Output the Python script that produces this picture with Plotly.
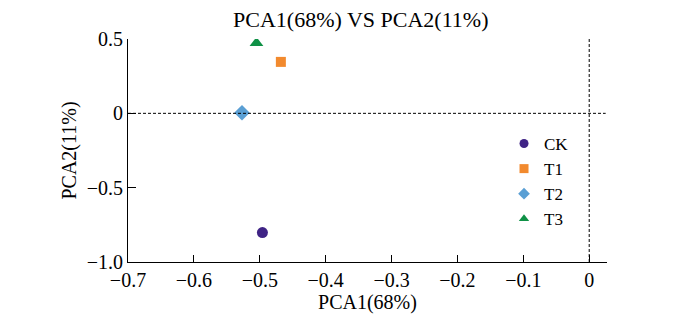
import plotly.graph_objects as go

groups = ["CK", "T1", "T2", "T3"]
pca1 = [-0.496, -0.468, -0.527, -0.505]
pca2 = [-0.802, 0.346, 0.004, 0.473]
symbols = ["circle", "square", "diamond", "triangle-up"]
colors = ["#3f2385", "#f28a2e", "#5a9fd4", "#0f9146"]
x_ticks = [-0.7, -0.6, -0.5, -0.4, -0.3, -0.2, -0.1, 0]
x_ticktext = ["\u22120.7", "\u22120.6", "\u22120.5", "\u22120.4", "\u22120.3", "\u22120.2", "\u22120.1", "0"]
y_ticks = [-1.0, -0.5, 0, 0.5]
y_ticktext = ["\u22121.0", "\u22120.5", "0", "0.5"]

font = "Liberation Serif"
sizes = [11, 10, 12, 12]

fig = go.Figure()
for g, x, y, s, c, sz in zip(groups, pca1, pca2, symbols, colors, sizes):
    fig.add_trace(go.Scatter(x=[x], y=[y], mode="markers", name=g, showlegend=False,
                             marker=dict(symbol=s, color=c, size=sz, line=dict(width=0))))
# legend entries (smaller symbols, like the reference legend)
for g, s, c in zip(groups, symbols, colors):
    fig.add_trace(go.Scatter(x=[None], y=[None], mode="markers", name=g,
                             marker=dict(symbol=s, color=c, size=9, line=dict(width=0))))

# dashed reference lines at 0
fig.add_shape(type="line", xref="x", yref="y", x0=-0.7, x1=0.025, y0=0, y1=0,
              line=dict(color="black", width=1, dash="3px,2px"))
fig.add_shape(type="line", xref="x", yref="y", x0=0, x1=0, y0=-1.0, y1=0.5,
              line=dict(color="black", width=1, dash="3px,2px"))

fig.update_layout(
    width=700, height=318,
    margin=dict(l=120, r=101, t=31, b=64),
    paper_bgcolor="white", plot_bgcolor="white",
    font=dict(family=font, size=20, color="black"),
    title=dict(text="PCA1(68%) VS PCA2(11%)", x=0.504, xref="container", xanchor="center",
               y=0.965, yref="container", yanchor="middle",
               font=dict(family=font, size=22)),
    showlegend=True,
    legend=dict(x=0.785, y=0.61, xanchor="left", yanchor="top", bgcolor="rgba(0,0,0,0)",
                font=dict(family=font, size=17), itemsizing="trace",
                tracegroupgap=0, itemwidth=30),
)
fig.update_xaxes(range=[-0.7, 0.027], tickvals=x_ticks, ticktext=x_ticktext,
                 showline=True, linecolor="black", linewidth=1, ticks="inside", ticklen=7,
                 tickcolor="black", showgrid=False, zeroline=False, mirror=False,
                 title=dict(text="PCA1(68%)", standoff=2, font=dict(family=font, size=20)),
                 tickfont=dict(family=font, size=20))
fig.update_yaxes(range=[-1.0, 0.5], tickvals=y_ticks, ticktext=y_ticktext,
                 showline=True, linecolor="black", linewidth=1, ticks="inside", ticklen=8,
                 tickcolor="black", showgrid=False, zeroline=False,
                 title=dict(text="PCA2(11%)", standoff=4, font=dict(family=font, size=20)),
                 tickfont=dict(family=font, size=20))

fig.write_html("out.html")
